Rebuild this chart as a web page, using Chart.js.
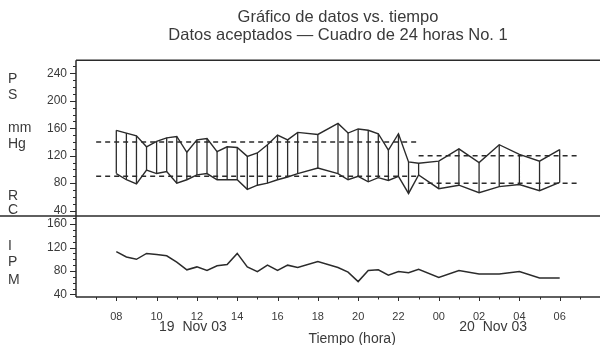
<!DOCTYPE html>
<html>
<head>
<meta charset="utf-8">
<script src="https://cdn.jsdelivr.net/npm/chart.js@4.4.1/dist/chart.umd.min.js"></script>
<style>
  html, body { margin: 0; padding: 0; background: #fff; }
  #wrap { width: 600px; height: 345px; }
</style>
</head>
<body>
<div id="wrap"><canvas id="chart"></canvas></div>
<script>
// measurement times, hours since 00:00 on 19 Nov (24 = 00:00 on 20 Nov)
const bpHours = [8, 8.5, 9, 9.5, 10, 10.5, 11, 11.5, 12, 12.5, 13, 13.5, 14, 14.5, 15, 15.5, 16, 16.5, 17,
                 18, 19, 19.5, 20, 20.5, 21, 21.5, 22, 22.5, 23, 24, 25, 26, 27, 28, 29, 30]
const systolic = [157, 153, 149, 133, 141, 146, 148, 125, 143, 145, 126, 133, 132, 119, 124, 136, 150, 143, 154,
                  151, 167, 153, 159, 157, 152, 128, 152, 111, 109, 112, 130, 110, 136, 122, 112, 129]
const diastolic = [94, 85, 79, 99, 94, 97, 80, 85, 92, 94, 85, 85, 85, 71, 77, 80, 85, 89, 94,
                   102, 94, 85, 90, 82, 88, 84, 90, 65, 92, 72, 77, 66, 75, 78, 69, 81]
const heartRate = [113, 104, 100, 110, 108, 106, 95, 82, 87, 81, 89, 91, 110, 87, 79, 90, 81, 90, 86,
                   96, 86, 78, 62, 81, 82, 73, 79, 77, 83, 69, 81, 75, 75, 79, 68, 68]

// day / night limits
const limitPeriods = [[7, 23], [23, 31]]
const upperLimits = [140, 120]
const lowerLimits = [90, 80]

const hourTicks = [8, 10, 12, 14, 16, 18, 20, 22, 24, 26, 28, 30]
const bpTicks = [40, 80, 120, 160, 200, 240]
const hrTicks = [40, 80, 120, 160]

const FONT = "'Liberation Sans', Arial, Helvetica, sans-serif"
const INK = '#2b2b2b'
const TXT = '#3a3a3a'

const pts = (xs, ys) => xs.map((x, i) => ({x: x, y: ys[i]}))

const verticals = bpHours.flatMap((h, i) => [
    {x: h, y: systolic[i]}, {x: h, y: diastolic[i]}, {x: h, y: null}
])

const limitSets = []
limitPeriods.forEach((p, i) => {
    ;[upperLimits[i], lowerLimits[i]].forEach(v => {
        limitSets.push({
            data: [{x: p[0], y: v}, {x: p[1], y: v}],
            yAxisID: 'bp', borderColor: INK, borderWidth: 1.5, borderDash: [5, 4]
        })
    })
})

const frame = {
    id: 'frame',
    afterDraw(chart) {
        const {ctx, chartArea: a} = chart
        const {x, bp, hr} = chart.scales
        ctx.save()
        ctx.strokeStyle = INK
        ctx.lineWidth = 1.5
        ctx.beginPath()
        ctx.moveTo(a.left, a.top); ctx.lineTo(a.right, a.top)
        ctx.moveTo(0, hr.top); ctx.lineTo(a.right, hr.top)
        ctx.moveTo(a.left, a.top); ctx.lineTo(a.left, a.bottom)
        ctx.moveTo(a.left, a.bottom); ctx.lineTo(a.right, a.bottom)
        ctx.stroke()

        ctx.lineWidth = 1
        ctx.beginPath()
        for (const s of [bp, hr]) {
            for (let v = Math.ceil(s.min / 10) * 10; v <= s.max; v += 10) {
                const y = Math.round(s.getPixelForValue(v)) + 0.5
                const len = v % 40 === 0 ? 6 : 3
                ctx.moveTo(a.left - len, y); ctx.lineTo(a.left, y)
            }
        }
        for (let h = 7; h < 32; h++) {
            const px = Math.round(x.getPixelForValue(h)) + 0.5
            const len = h % 2 === 0 ? 4 : 2.5
            ctx.moveTo(px, a.bottom); ctx.lineTo(px, a.bottom + len)
        }
        ctx.stroke()

        ctx.fillStyle = TXT
        ctx.font = '14px ' + FONT
        ctx.textAlign = 'left'
        ctx.textBaseline = 'middle'
        const side = [['P', 79], ['S', 95], ['mm', 128], ['Hg', 144], ['R', 196], ['C', 210],
                      ['I', 246], ['P', 262], ['M', 280]]
        side.forEach(([t, y]) => ctx.fillText(t, 8, y))

        ctx.textAlign = 'center'
        ctx.fillText('19  Nov 03', x.getPixelForValue(11.8), 327)
        ctx.fillText('20  Nov 03', x.getPixelForValue(26.7), 327)
        ctx.font = '14px ' + FONT
        ctx.fillText('Tiempo (hora)', x.getPixelForValue(19.7), 339)
        ctx.restore()
    }
}

const yScale = (min, max, ticks, weight) => ({
    type: 'linear', position: 'left', stack: 'panels', stackWeight: weight,
    min: min, max: max,
    afterBuildTicks: s => { s.ticks = ticks.map(v => ({value: v})) },
    afterFit: s => { s.width = 76 },
    grid: {display: false, drawTicks: true, tickLength: 6},
    border: {display: false},
    ticks: {font: {family: FONT, size: 12}, color: TXT, padding: 3}
})

new Chart(document.getElementById('chart').getContext('2d'), {
    type: 'line',
    data: {
        datasets: [
            {data: pts(bpHours, systolic), yAxisID: 'bp', borderColor: INK, borderWidth: 1.4},
            {data: pts(bpHours, diastolic), yAxisID: 'bp', borderColor: INK, borderWidth: 1.4},
            {data: verticals, yAxisID: 'bp', borderColor: INK, borderWidth: 1.3, spanGaps: false},
            ...limitSets,
            {data: pts(bpHours, heartRate), yAxisID: 'hr', borderColor: INK, borderWidth: 1.5}
        ]
    },
    options: {
        responsive: true,
        maintainAspectRatio: false,
        animation: false,
        layout: {padding: 0},
        elements: {point: {radius: 0}, line: {tension: 0}},
        scales: {
            x: {
                type: 'linear', position: 'bottom', min: 6, max: 32,
                afterBuildTicks: s => { s.ticks = hourTicks.map(v => ({value: v})) },
                afterFit: s => { s.height = 48 },
                grid: {display: false, drawTicks: true, tickLength: 4},
                border: {display: false},
                ticks: {
                    font: {family: FONT, size: 11}, color: TXT, padding: 9, maxRotation: 0, autoSkip: false,
                    callback: v => String(v % 24).padStart(2, '0')
                }
            },
            // first axis of the stack is placed at the bottom
            hr: yScale(35.7, 173.6, hrTicks, 81),
            bp: yScale(32, 259, bpTicks, 156)
        },
        plugins: {
            legend: {display: false},
            tooltip: {enabled: false},
            title: {
                display: true, text: 'Gráfico de datos vs. tiempo', fullSize: false,
                color: TXT, font: {family: FONT, size: 16.5, weight: 'normal', lineHeight: 1.1},
                padding: {top: 8, bottom: 0}
            },
            subtitle: {
                display: true, text: 'Datos aceptados — Cuadro de 24 horas No. 1', fullSize: false,
                color: TXT, font: {family: FONT, size: 16.5, weight: 'normal', lineHeight: 1.1},
                padding: {top: 0, bottom: 16}
            }
        }
    },
    plugins: [frame]
})
</script>
</body>
</html>
